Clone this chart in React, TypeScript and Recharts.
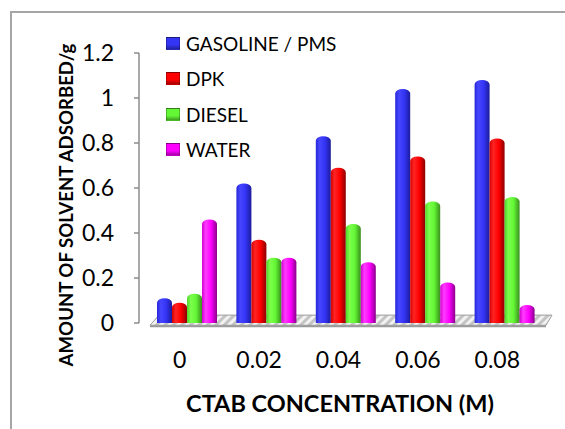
import React from 'react';
import { BarChart, Bar, XAxis, YAxis, Legend, ReferenceArea, Label } from 'recharts';

const categories = ['0', '0.02', '0.04', '0.06', '0.08'];
const gasoline = [0.11, 0.62, 0.83, 1.04, 1.08];
const dpk = [0.09, 0.37, 0.69, 0.74, 0.82];
const diesel = [0.13, 0.29, 0.44, 0.54, 0.56];
const water = [0.46, 0.29, 0.27, 0.18, 0.08];
const yTicks = [0, 0.2, 0.4, 0.6, 0.8, 1, 1.2];
const seriesNames = ['GASOLINE / PMS', 'DPK', 'DIESEL', 'WATER'];
const seriesKeys = ['gasoline', 'dpk', 'diesel', 'water'];
const seriesColors = ['#3535f5', '#ff0000', '#63f735', '#ff00ff'];
const gradIds = ['gBlue', 'gRed', 'gGreen', 'gMag'];

const data = categories.map((c, i) => ({
  cat: c,
  gasoline: gasoline[i],
  dpk: dpk[i],
  diesel: diesel[i],
  water: water[i],
}));

const FONT = "Lato, 'Liberation Sans', sans-serif";

const Cyl = (p: any) => {
  const { x, y, width, height, fill } = p;
  if (!height || height <= 0) return null;
  const ry = Math.min(4.5, height / 2);
  const rx = width / 2;
  const d = `M${x},${y + height} L${x},${y + ry} A${rx},${ry} 0 0 1 ${x + width},${y + ry} L${x + width},${y + height} Z`;
  return <path d={d} fill={fill} />;
};

const Floor = (p: any) => {
  const { x, y, width, height } = p;
  const pts = `${x + 12},${y} ${x + width + 8},${y} ${x + width + 2},${y + height} ${x + 3},${y + height}`;
  return (
    <g>
      <polygon points={pts} fill="url(#floorPat)" stroke="#9a9a9a" strokeWidth={1} />
      <line x1={x + 3} y1={y + height + 1} x2={x + width + 2} y2={y + height + 1} stroke="#9a9a9a" strokeWidth={2} />
    </g>
  );
};

const XTick = (p: any) => {
  const { x, y, payload } = p;
  return (
    <text x={x - 7} y={y + 28} textAnchor="middle" dominantBaseline="central" fontSize={23} fontFamily={FONT} fill="#000">
      {payload.value}
    </text>
  );
};

const YTitle = (p: any) => {
  const vb = p.viewBox;
  const cx = vb.x - 23;
  const cy = vb.y + vb.height / 2 + 17;
  return (
    <text x={cx} y={cy} transform={`rotate(-90 ${cx} ${cy})`} textAnchor="middle" dominantBaseline="central" fontSize={18.6} fontWeight="bold" fontFamily={FONT} fill="#000">
      AMOUNT OF SOLVENT ADSORBED/g
    </text>
  );
};

const XTitle = (p: any) => {
  const vb = p.viewBox;
  const cx = vb.x + vb.width / 2 - 1.5;
  const cy = vb.y + 80;
  return (
    <text x={cx} y={cy} textAnchor="middle" dominantBaseline="central" fontSize={23.5} fontWeight="bold" fontFamily={FONT} fill="#000">
      CTAB CONCENTRATION (M)
    </text>
  );
};

const LegendContent = () => (
  <div style={{ fontFamily: FONT }}>
    {seriesNames.map((n, i) => (
      <div key={n} style={{ display: 'flex', alignItems: 'center', height: 35.3 }}>
        <div
          style={{
            width: 12,
            height: 11,
            marginRight: 6,
            background: `linear-gradient(180deg, ${seriesColors[i]} 0%, ${seriesColors[i]} 60%, rgba(0,0,0,0.35) 100%)`,
            backgroundColor: seriesColors[i],
            border: '1px solid rgba(0,0,0,0.25)',
          }}
        />
        <span style={{ fontSize: 19, color: '#000', whiteSpace: 'nowrap' }}>{n}</span>
      </div>
    ))}
  </div>
);

export default function App() {
  return (
    <div style={{ position: 'absolute', left: 0, top: 0, width: 565, height: 429, background: '#fff', overflow: 'hidden' }}>
      <div
        style={{
          position: 'absolute',
          left: 10,
          top: 11,
          right: -5,
          bottom: -5,
          borderLeft: '2px solid #a6a6a6',
          borderTop: '2px solid #a6a6a6',
        }}
      />
      <BarChart
        width={565}
        height={429}
        data={data}
        margin={{ top: 53, right: 21, bottom: 46, left: 89 }}
        barSize={15}
        barGap={0}
        style={{ position: 'absolute', left: 0, top: 0 }}
      >
        <defs>
          <linearGradient id="gBlue" x1="0" y1="0" x2="1" y2="0">
            <stop offset="0%" stopColor="#2626d8" />
            <stop offset="25%" stopColor="#4646ff" />
            <stop offset="60%" stopColor="#3434f6" />
            <stop offset="100%" stopColor="#1c1c9c" />
          </linearGradient>
          <linearGradient id="gRed" x1="0" y1="0" x2="1" y2="0">
            <stop offset="0%" stopColor="#d40000" />
            <stop offset="25%" stopColor="#ff2424" />
            <stop offset="60%" stopColor="#ff0000" />
            <stop offset="100%" stopColor="#8c0000" />
          </linearGradient>
          <linearGradient id="gGreen" x1="0" y1="0" x2="1" y2="0">
            <stop offset="0%" stopColor="#4fd42b" />
            <stop offset="25%" stopColor="#7cff4c" />
            <stop offset="60%" stopColor="#63f735" />
            <stop offset="100%" stopColor="#3a8f1e" />
          </linearGradient>
          <linearGradient id="gMag" x1="0" y1="0" x2="1" y2="0">
            <stop offset="0%" stopColor="#d000d0" />
            <stop offset="25%" stopColor="#ff3cff" />
            <stop offset="60%" stopColor="#ff00ff" />
            <stop offset="100%" stopColor="#8c008c" />
          </linearGradient>
          <pattern id="floorPat" width="6" height="6" patternUnits="userSpaceOnUse" patternTransform="rotate(45)">
            <rect width="6" height="6" fill="#c4c4c4" />
            <rect width="3" height="6" fill="#f2f2f2" />
          </pattern>
        </defs>
        <ReferenceArea y1={-0.01} y2={0.035} ifOverflow="visible" shape={Floor} />
        <XAxis
          dataKey="cat"
          padding={{ left: 8, right: 0 }}
          axisLine={false}
          tickLine={false}
          tick={XTick}
          height={60}
          interval={0}
        >
          <Label content={XTitle} />
        </XAxis>
        <YAxis
          domain={[0, 1.2]}
          ticks={yTicks}
          width={50}
          tickSize={5}
          tickMargin={20}
          axisLine={{ stroke: '#8c8c8c', strokeWidth: 1.5 }}
          tickLine={{ stroke: '#8c8c8c', strokeWidth: 1.5 }}
          tick={{ fontSize: 23, fill: '#000', fontFamily: FONT }}
          interval={0}
        >
          <Label content={YTitle} />
        </YAxis>
        <Legend
          layout="vertical"
          align="center"
          verticalAlign="middle"
          content={LegendContent}
          wrapperStyle={{ position: 'absolute', left: 166, top: 26, width: 220, height: 145 }}
        />
        {seriesKeys.map((k, i) => (
          <Bar key={k} dataKey={k} name={seriesNames[i]} fill={`url(#${gradIds[i]})`} shape={Cyl} isAnimationActive={false} />
        ))}
      </BarChart>
    </div>
  );
}
